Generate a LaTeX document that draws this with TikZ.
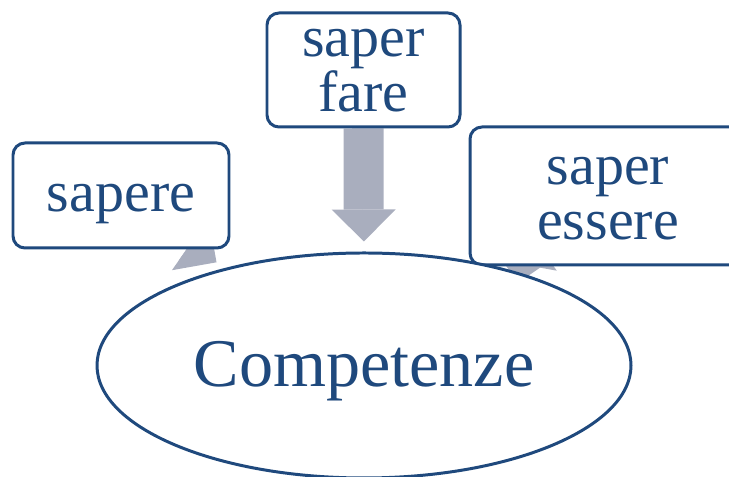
\documentclass[tikz,border=0pt]{standalone}
\usepackage{fontspec}
\setmainfont{Liberation Serif}
\usetikzlibrary{positioning}
\usetikzlibrary{arrows.meta}
\usetikzlibrary{backgrounds}
\usetikzlibrary{shapes.geometric}
\definecolor{TextBlue}{HTML}{1F497D}
\definecolor{ArrowGrey}{HTML}{A9AEBE}
\tikzset{
  box/.style={draw=TextBlue, line width=1.7pt, rounded corners=0.24cm,
    fill=white, text=TextBlue, align=center, inner sep=0pt,
    font=\fontsize{33}{31.3}\selectfont},
  bigarrow/.style={ArrowGrey, line width=0.8cm,
    -{Triangle[length=0.64cm,width=1.28cm,line width=0pt]}, shorten >=0.2cm}
}

\begin{document}
\begin{tikzpicture}
  \useasboundingbox (0,0) rectangle (14.58,9.54);

  \node[box, minimum width=4.32cm, minimum height=2.1cm,
    text height=0.66cm, text depth=0pt] (sapere) at (2.42,5.63) {sapere};
  \node[box, minimum width=3.86cm, minimum height=2.28cm,
    text height=1.68cm, text depth=0pt] (fare) at (7.27,8.14) {saper\\fare};
  \node[box, minimum width=5.52cm, minimum height=2.76cm,
    text height=1.76cm, text depth=0pt] (essere) at (12.16,5.62) {saper\\essere};

  \node[ellipse, draw=TextBlue, line width=1.7pt, fill=white,
    minimum width=10.68cm, minimum height=4.5cm, text=TextBlue,
    font=\fontsize{38.8}{40}\selectfont,
    text height=0.86cm, text depth=0pt] (comp) at (7.28,2.23) {Competenze};

  % grey arrows behind the boxes
  \begin{scope}[on background layer]
    \draw[bigarrow] (sapere) -- (comp);
    \draw[bigarrow] (fare) -- (comp);
    \draw[bigarrow] (essere) -- (comp);
  \end{scope}

\end{tikzpicture}
\end{document}
